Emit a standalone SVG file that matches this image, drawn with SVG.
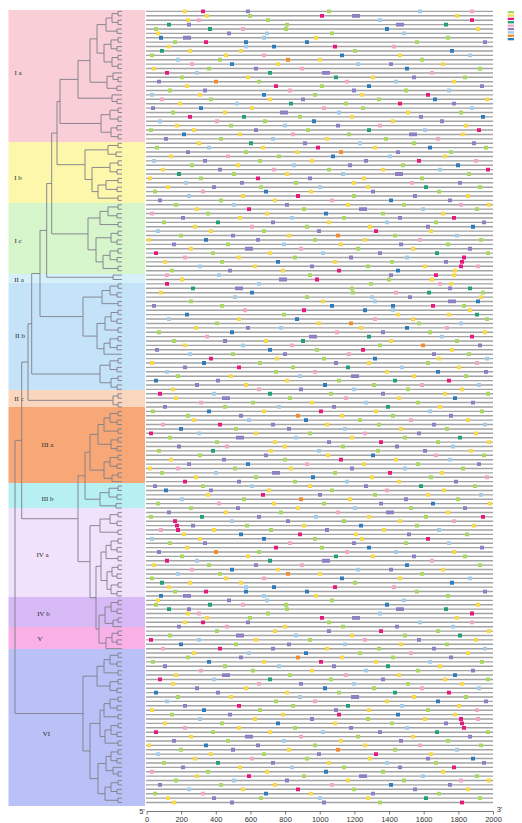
<svg xmlns="http://www.w3.org/2000/svg" width="522" height="823" viewBox="0 0 522 823">
<style>
.bl{font-family:"Liberation Serif","Times New Roman",serif;font-size:7px;fill:#2a2a2a;text-anchor:middle}
.ax{font-family:"Liberation Sans",Arial,sans-serif;font-size:7.5px;fill:#333;text-anchor:middle}
.g{stroke:#a8d860}.y{stroke:#fad947}.m{stroke:#e61a7d}.t{stroke:#21a07a}.p{stroke:#f3a5c8}.u{stroke:#8d80c4}.l{stroke:#a3cbea}.o{stroke:#f28b2b}.b{stroke:#2e7cbc}
.lg{stroke:none}
</style>
<defs>
<g id="bA">
<path class="g" d="M327 0h4M248 1h4M266 2h4M285 3h4M154 4h4M284 4h4M330 5h4M446 6h4M173 7h4M415 7h4M353 9h4M150 10h4M218 11h4M420 11h4M207 13h4M478 13h4M180 15h4M463 15h4M257 16h4M320 17h4M168 18h4M404 18h4M313 19h4"/>
<path class="y" d="M183 0h4M205 1h4M455 1h4M186 2h4M476 4h4M156 5h4M314 6h4M167 8h4M188 9h4M239 9h4M224 10h4M398 10h4M318 11h4M276 12h4M441 12h4M152 13h4M246 15h4M371 15h4M452 16h4M185 17h4M198 19h4M360 19h4"/>
<path class="m" d="M201 0h4M320 1h4M470 2h4M204 7h4M333 8h4M165 14h4M274 17h4M426 19h4"/>
<path class="t" d="M167 3h4M444 3h4M208 4h4M160 9h4M268 14h4M334 15h4"/>
<path class="p" d="M470 0h4M197 2h4M241 4h4M392 8h4M262 10h4M190 12h4M300 13h4M430 14h4M345 16h4M288 18h4"/>
<path class="u" d="M246 0h4M352 1h8M187 3h4M396 3h8M227 5h4M183 6h8M483 7h4M389 12h4M254 13h4M322 14h8M412 15h4M157 16h4M480 17h4M203 18h4M352 18h4"/>
<path class="l" d="M418 0h4M378 2h4M265 5h4M402 5h4M262 6h4M244 8h4M468 10h4M176 11h4M356 12h4M195 14h4M394 16h4M447 18h4M150 19h4"/>
<path class="o" d="M286 11h4M214 16h4"/>
<path class="b" d="M385 4h4M159 6h4M244 7h4M305 7h4M272 8h4M450 9h4M340 10h4M230 12h4M405 13h4M367 17h4M262 19h4"/>
</g>
<g id="bB">
<path class="g" d="M209 0h4M377 0h4M344 1h4M361 2h4M171 3h4M459 3h4M298 4h4M263 5h4M229 6h4M149 7h4M306 7h4M347 8h4M219 9h4M384 9h4M412 10h4M155 11h4M484 11h4M244 12h4M449 12h4M277 13h4M258 14h4M190 15h4M401 15h4M327 16h4M232 17h4M467 17h4M199 18h4M420 18h4M294 19h4"/>
<path class="y" d="M268 0h4M485 0h4M178 1h4M250 2h4M223 3h4M406 3h4M350 4h4M391 5h4M175 6h4M464 6h4M192 7h4M238 8h4M461 8h4M325 9h4M197 10h4M261 11h4M373 11h4M295 12h4M169 13h4M443 13h4M310 14h4M236 15h4M161 16h4M381 16h4M285 17h4M148 18h4M362 18h4M352 19h4"/>
<path class="m" d="M398 1h4M188 4h4M477 7h4M316 11h4M417 14h4M486 16h4M256 18h4"/>
<path class="t" d="M289 1h4M242 4h4M367 7h4M249 10h4M177 17h4"/>
<path class="p" d="M160 0h4M322 2h4M215 5h4M378 6h4M291 8h4M436 9h4M226 13h4M474 14h4M272 16h4M410 19h4"/>
<path class="u" d="M301 0h4M452 1h4M151 2h4M280 3h8M419 4h4M440 5h4M336 6h4M254 7h4M409 8h8M164 9h4M303 10h4M472 10h4M186 12h4M396 12h4M203 14h4M364 14h4M348 15h4M218 16h4M395 17h8M308 18h4M240 19h4M458 19h4"/>
<path class="l" d="M235 1h4M470 2h4M337 3h4M158 5h4M283 6h4M423 7h4M271 9h4M358 10h4M207 11h4M388 13h4M152 14h4M292 15h4M438 16h4M341 17h4M184 19h4"/>
<path class="o" d="M339 12h4"/>
<path class="b" d="M433 0h4M199 2h4M481 4h4M312 5h4M182 8h4M428 11h4M331 13h4M456 15h4"/>
</g>
<g id="bC">
<path class="g" d="M259 0h4M478 0h4M153 1h4M437 1h4M352 2h4M219 3h4M174 4h4M402 4h4M302 5h4M475 5h4M206 6h4M381 6h4M342 7h4M162 8h4M434 8h4M305 9h4M262 10h4M179 11h4M393 11h4M313 12h4M479 12h4M226 13h4M446 13h4M356 14h4M211 15h4M486 15h4M293 16h4M220 17h4M390 17h4M366 18h4M170 19h4"/>
<path class="y" d="M166 0h4M366 0h4M309 1h4M241 2h4M466 2h4M273 3h4M346 4h4M487 4h4M195 5h4M265 6h4M441 6h4M238 7h4M327 8h4M193 9h4M368 9h4M209 10h4M429 10h4M287 11h4M147 12h4M363 12h4M339 13h4M189 14h4M411 14h4M268 15h4M237 16h4M163 17h4M333 17h4M253 18h4M423 18h4M281 19h4M453 19h4"/>
<path class="m" d="M296 2h4M247 5h4M452 7h4M374 10h4M154 15h4M462 16h4M460 17h4M459 18h4M337 19h4"/>
<path class="t" d="M424 0h4M216 8h4M435 15h4"/>
<path class="p" d="M201 1h4M330 3h4M459 4h4M150 6h4M250 9h4M418 12h4M299 14h4M183 16h4M476 18h4"/>
<path class="u" d="M212 0h4M371 1h4M413 2h4M158 3h4M448 3h4M285 4h4M359 5h8M181 7h4M398 7h4M271 8h4M482 8h4M426 9h4M317 10h4M231 11h4M256 12h4M172 13h4M399 13h4M245 14h8M468 14h4M378 15h4M349 16h4M444 17h4M310 18h4M228 19h4"/>
<path class="l" d="M318 0h4M187 2h4M232 4h4M421 5h4M290 7h4M385 8h4M156 10h4M455 11h4M282 13h4M321 15h4M405 16h4M198 18h4"/>
<path class="o" d="M336 11h4"/>
<path class="b" d="M264 1h4M389 3h4M324 6h4M471 9h4M204 12h4M276 17h4M396 19h4"/>
</g>
</defs>

<g id="clades">
<g id="clade-Ia"><rect x="8.5" y="10" width="136.5" height="132" fill="#f9ced6"/><text class="bl" x="18" y="74.5">I a</text></g>
<g id="clade-Ib"><rect x="8.5" y="142" width="136.5" height="61" fill="#fcf7ab"/><text class="bl" x="18" y="180">I b</text></g>
<g id="clade-Ic"><rect x="8.5" y="203" width="136.5" height="71" fill="#d7f5cb"/><text class="bl" x="18" y="243">I c</text></g>
<g id="clade-IIa"><rect x="8.5" y="274" width="136.5" height="9" fill="#d6f0fa"/><text class="bl" x="19" y="282">II a</text></g>
<g id="clade-IIb"><rect x="8.5" y="283" width="136.5" height="107" fill="#c5e3f8"/><text class="bl" x="20" y="338">II b</text></g>
<g id="clade-IIc"><rect x="8.5" y="390" width="136.5" height="17" fill="#fad6be"/><text class="bl" x="19" y="401">II c</text></g>
<g id="clade-IIIa"><rect x="8.5" y="407" width="136.5" height="76" fill="#f7a876"/><text class="bl" x="47.5" y="447">III a</text></g>
<g id="clade-IIIb"><rect x="8.5" y="483" width="136.5" height="25" fill="#b6f0f2"/><text class="bl" x="47.5" y="500.5">III b</text></g>
<g id="clade-IVa"><rect x="8.5" y="508" width="136.5" height="89" fill="#f0e2fb"/><text class="bl" x="42.5" y="557">IV a</text></g>
<g id="clade-IVb"><rect x="8.5" y="597" width="136.5" height="30" fill="#d7baf5"/><text class="bl" x="43.5" y="616">IV b</text></g>
<g id="clade-V"><rect x="8.5" y="627" width="136.5" height="22" fill="#f8b0e6"/><text class="bl" x="40" y="641">V</text></g>
<g id="clade-VI"><rect x="8.5" y="649" width="136.5" height="157" fill="#bac1f6"/><text class="bl" x="46.5" y="736">VI</text></g>
</g>

<g id="tree" transform="translate(0,11.4) scale(1,4.395)">
<path fill="none" stroke="#7e7e8a" stroke-width="0.9" vector-effect="non-scaling-stroke" d="M122 0H118V1H122M122 2H118V3H122M118 .5H112V2.5H118M122 4H117V5H122M112 1.5H106V4.5H117M122 6H118V7H122M122 8H117V9H122M118 6.5H111V8.5H117M122 10H118V11H122M122 12H118V13H122M118 10.5H112V12.5H118M111 7.5H104V11.5H112M106 3H97V9.5H104M122 15H118V16H122M122 14H113V15.5H118M122 17H117V18H122M113 14.75H107V17.5H117M97 6.25H90V16.125H107M122 20H117V21H122M122 19H112V20.5H117M90 11.19H78V19.75H112M122 22H118V23H122M122 24H118V25H122M118 22.5H110V24.5H118M122 26H117V27H122M122 28H118V29H122M117 26.5H111V28.5H118M110 23.5H101V27.5H111M78 15.47H60V25.5H101
M122 30H118V31H122M122 32H116V33H122M118 30.5H108V32.5H116M122 34H118V35H122M122 36H117V37H122M118 34.5H110V36.5H117M122 38H118V39H122M122 40H117V41H122M118 38.5H106V40.5H117M122 42H118V43H122M106 39.5H98V42.5H118M110 35.5H92V41H98M108 31.5H85V38.25H92M60 20.49H57V34.875H85
M122 44H118V45H122M122 46H117V47H122M118 44.5H108V46.5H117M122 48H118V49H122M108 45.5H100V48.5H118M122 50H118V51H122M122 52H117V53H122M118 50.5H111V52.5H117M122 54H118V55H122M122 56H117V57H122M118 54.5H110V56.5H117M122 58H118V59H122M110 55.5H103V58.5H118M111 51.5H96V57H103M100 47H88V54.25H96M57 27.68H51.7V50.625H88
M122 60H113V61H122M51.7 39.15H46.7V60.5H113
M122 62H118V63H122M122 64H117V65H122M118 62.5H110V64.5H117M122 66H118V67H122M110 63.5H102V66.5H118M122 68H118V69H122M122 70H117V71H122M118 68.5H111V70.5H117M122 72H118V73H122M111 69.5H105V72.5H118M122 74H118V75H122M122 76H117V77H122M118 74.5H110V76.5H117M110 75.5H104V78H122M105 71H97V76.75H104M102 65H83V73.875H97M46.7 49.83H40V69.44H83
M122 79H118V80H122M122 81H117V82H122M118 79.5H110V81.5H117M122 83H118V84H122M122 85H117V86H122M118 83.5H111V85.5H117M110 80.5H100V84.5H111M40 59.64H31.7V82.5H100
M122 87H118V88H122M122 89H118V90H122M118 87.5H113V89.5H118M31.7 71.07H28V88.5H113
M122 91H118V92H122M122 93H117V94H122M118 91.5H110V93.5H117M122 95H118V96H122M110 92.5H104V95.5H118M122 97H118V98H122M122 99H117V100H122M118 97.5H111V99.5H117M104 94H98V98.5H111M122 101H118V102H122M122 103H117V104H122M118 101.5H110V103.5H117M122 105H118V106H122M118 105.5H112V107H122M110 102.5H104V106.25H112M98 96.25H90V104.375H104
M122 108H118V109H122M122 110H117V111H122M118 108.5H109V110.5H117M122 112H116V113H122M109 109.5H100V112.5H116M90 100.31H85V111H100
M122 114H118V115H122M122 116H117V117H122M118 114.5H110V116.5H117M122 118H118V119H122M110 115.5H100V118.5H118
M122 120H118V121H122M122 122H117V123H122M118 120.5H111V122.5H117M122 124H118V125H122M111 121.5H106V124.5H118M122 126H118V127H122M122 128H117V129H122M118 126.5H112V128.5H117M122 130H118V131H122M122 132H117V133H122M118 130.5H111V132.5H117M112 127.5H107V131.5H111M106 123H101V129.5H107
M122 134H118V135H122M122 136H117V137H122M118 134.5H111V136.5H117M122 138H118V139H122M118 138.5H113V140H122M111 135.5H105V139.25H113
M122 141H118V142H122M122 143H117V144H122M118 141.5H112V143.5H117M112 142.5H106V145H122M105 137.375H99V143.75H106M101 126.25H96V140.56H99M100 117H90V133.4H96M85 105.66H78V125.2H90M28 79.79H21.7V115.43H78
M122 146H118V147H122M122 148H117V149H122M118 146.5H110V148.5H117M122 150H118V151H122M110 147.5H104V150.5H118M122 152H118V153H122M122 154H117V155H122M118 152.5H110V154.5H117M104 149H97V153.5H110
M122 156H118V157H122M122 158H117V159H122M118 156.5H110V158.5H117M122 160H118V161H122M110 157.5H104V160.5H118M122 162H118V163H122M122 164H117V165H122M118 162.5H111V164.5H117M122 166H118V167H122M111 163.5H105V166.5H118M104 159H100V165H105
M122 168H118V169H122M122 170H117V171H122M118 168.5H111V170.5H117M122 173H118V174H122M122 172H113V173.5H118M111 169.5H106V172.75H113M122 175H118V176H122M122 177H117V178H122M118 175.5H111V177.5H117M122 179H118V180H122M111 176.5H105V179.5H118M106 171.125H98V178H105M100 162H90V174.56H98M97 151.25H83V168.28H90M21.7 97.61H15V159.77H83"/>
</g>

<g id="genes">
<path d="M319.5 10.7V803.5" fill="none" stroke="#a3a3a3" stroke-width="347" stroke-dasharray="1.4 2.995"/>
</g>

<g id="motifs" transform="translate(0,11.4) scale(1,4.395)" fill="none" stroke-width="0.865">
<use href="#bA"/>
<use href="#bB" transform="translate(0,20)"/>
<use href="#bC" transform="translate(0,40)"/>
<use href="#bA" transform="translate(639,60) scale(-1,1)"/>
<use href="#bB" transform="translate(639,80) scale(-1,1)"/>
<use href="#bC" transform="translate(639,100) scale(-1,1)"/>
<use href="#bA" transform="translate(0,139) scale(1,-1)"/>
<use href="#bB" transform="translate(639,159) scale(-1,-1)"/>
<use href="#bC" transform="translate(0,179) scale(1,-1)"/>
<path class="y" d="M172 180h4"/>
<path class="u" d="M230 180h4M322 180h4"/>
<path class="g" d="M378 180h4"/>
<path class="m" d="M460 180h4"/>
</g>

<g id="axis">
<path d="M147 811.5H493.5M147 811.5v3M181.65 811.5v3M216.3 811.5v3M250.95 811.5v3M285.6 811.5v3M320.25 811.5v3M354.9 811.5v3M389.55 811.5v3M424.2 811.5v3M458.85 811.5v3M493.5 811.5v3" fill="none" stroke="#555" stroke-width="0.8"/>
<text class="ax" x="147" y="822">0</text>
<text class="ax" x="181.65" y="822">200</text>
<text class="ax" x="216.3" y="822">400</text>
<text class="ax" x="250.95" y="822">600</text>
<text class="ax" x="285.6" y="822">800</text>
<text class="ax" x="320.25" y="822">1000</text>
<text class="ax" x="354.9" y="822">1200</text>
<text class="ax" x="389.55" y="822">1400</text>
<text class="ax" x="424.2" y="822">1600</text>
<text class="ax" x="458.85" y="822">1800</text>
<text class="ax" x="493.5" y="822">2000</text>
<text class="ax" x="142" y="813.5">5'</text>
<text class="ax" x="499.5" y="812">3'</text>
</g>

<g id="legend">
<rect x="507.7" y="11" width="6.3" height="2.3" fill="#a8d860"/>
<rect x="507.7" y="14.4" width="6.3" height="2.3" fill="#fad947"/>
<rect x="507.7" y="17.8" width="6.3" height="2.3" fill="#e61a7d"/>
<rect x="507.7" y="21.1" width="6.3" height="2.3" fill="#21a07a"/>
<rect x="507.7" y="24.5" width="6.3" height="2.3" fill="#f3a5c8"/>
<rect x="507.7" y="27.9" width="6.3" height="2.3" fill="#8d80c4"/>
<rect x="507.7" y="31.2" width="6.3" height="2.3" fill="#a3cbea"/>
<rect x="507.7" y="34.6" width="6.3" height="2.3" fill="#f28b2b"/>
<rect x="507.7" y="38" width="6.3" height="2.3" fill="#2e7cbc"/>
</g>
</svg>
